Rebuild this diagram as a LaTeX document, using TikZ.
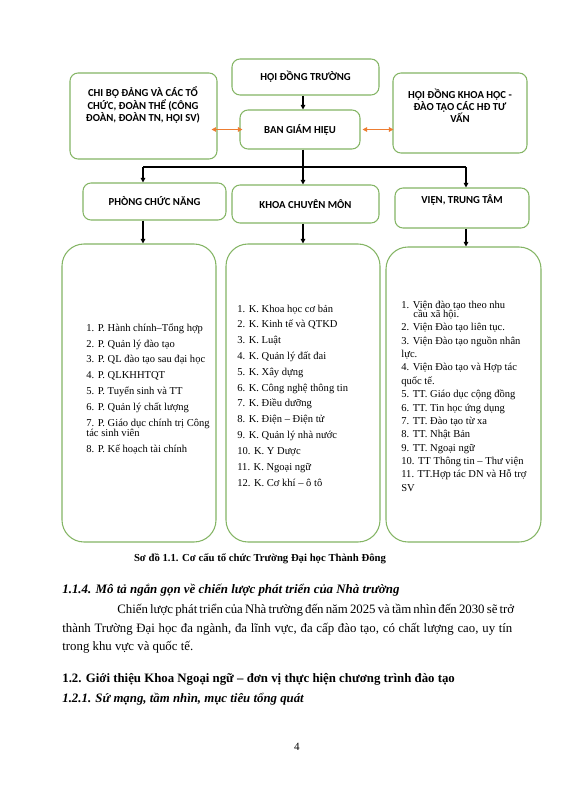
\documentclass[tikz,border=0pt]{standalone}
\usepackage{fontspec}
\setmainfont{Liberation Serif}
\newfontfamily\calibri{Carlito}
\usetikzlibrary{arrows.meta,positioning}

\newlength\unitpx
\setlength\unitpx{0.02cm}
\definecolor{boxgreen}{RGB}{132,181,100}
\definecolor{linkorange}{RGB}{237,125,49}

\begin{document}
\begin{tikzpicture}[
  x=0.02cm, y=-0.02cm,
  %% ── node styles ────────────────────────────────────────────────────
  %% Small rounded boxes of the organisation chart
  box/.style   ={rectangle, rounded corners=8\unitpx, draw=boxgreen,
                 line width=0.6pt, align=center, inner sep=0pt,
                 font=\calibri\bfseries\fontsize{6.1}{6.9}\selectfont},
  %% Text of a box that sits in its upper part
  lbl/.style   ={align=center, inner sep=0pt,
                 font=\calibri\bfseries\fontsize{6.1}{6.9}\selectfont},
  %% Tall boxes holding the lists of units
  listbox/.style={rectangle, rounded corners=22\unitpx, draw=boxgreen,
                 line width=0.6pt, inner sep=0pt,
                 minimum width=154\unitpx},
  items/.style ={anchor=west, align=left, inner sep=0pt,
                 font=\fontsize{6}{9}\selectfont},
  %% Page text under the chart
  body/.style  ={anchor=base west, inner sep=0pt,
                 font=\fontsize{7.3}{10}\selectfont},
  %% Arrows
  arr/.style   ={-{Triangle[length=2.6pt,width=2.6pt]}, line width=0.6pt},
  link/.style  ={{Triangle[length=2.6pt,width=2.6pt]}-{Triangle[length=2.6pt,width=2.6pt]},
                 line width=0.7pt, linkorange},
]

%% page
\fill[white] (0,0) rectangle (566,800);
\useasboundingbox (0,0) rectangle (566,800);

%% ════════════════════════════════════════════════════════════════════
%% TOP LEVEL
%% ════════════════════════════════════════════════════════════════════
\node[box, minimum width=147\unitpx, minimum height=36\unitpx] (hdt) at (305.5,77)
  {HỘI ĐỒNG TRƯỜNG};
\node[box, minimum width=120\unitpx, minimum height=39\unitpx] (bgh) at (300,129.5)
  {BAN GIÁM HIỆU};

\node[box, minimum width=147\unitpx, minimum height=86\unitpx] (chibo) at (143.5,116) {};
\node[lbl] (chibo-txt) at (143,105)
  {CHI BỘ ĐẢNG VÀ CÁC TỔ\\CHỨC, ĐOÀN THỂ (CÔNG\\ĐOÀN, ĐOÀN TN, HỘI SV)};

\node[box, minimum width=134\unitpx, minimum height=80\unitpx] (khoahoc) at (460,113) {};
\node[lbl] (khoahoc-txt) at (460,106)
  {HỘI ĐỒNG KHOA HỌC -\\ĐÀO TẠO CÁC HĐ TƯ\\VẤN};

%% two-way links
\draw[link] ([xshift=-6\unitpx]chibo.east |- bgh.west) -- ([xshift=3\unitpx]bgh.west);
\draw[link] ([xshift=2\unitpx]bgh.east) -- ([xshift=1\unitpx]khoahoc.west |- bgh.east);

%% ════════════════════════════════════════════════════════════════════
%% SECOND LEVEL
%% ════════════════════════════════════════════════════════════════════
\node[box, minimum width=143\unitpx, minimum height=37\unitpx] (pcn) at (154.5,201.5)
  {PHÒNG CHỨC NĂNG};
\node[box, minimum width=147\unitpx, minimum height=38\unitpx] (kcm) at (305.5,204)
  {KHOA CHUYÊN MÔN};
\node[box, minimum width=134\unitpx, minimum height=40\unitpx] (vtt) at (462,208) {};
\node[lbl] (vtt-txt) at (462,200) {VIỆN, TRUNG TÂM};

%% bus from the board
\coordinate (spine) at (303,167);
\coordinate (busL)  at (143,167);
\coordinate (busR)  at (466,167);

\draw[arr] (hdt.south -| spine) -- (bgh.north -| spine);
\draw[line width=0.6pt] (bgh.south -| spine) -- (spine);
\draw[line width=0.6pt] (busL) -- (busR);
\foreach \a/\b in {pcn/busL, kcm/spine, vtt/busR}
  \draw[arr] (\b) -- (\a.north -| \b);

%% ════════════════════════════════════════════════════════════════════
%% LISTS
%% ════════════════════════════════════════════════════════════════════
\node[listbox, minimum height=298\unitpx] (listL) at (139,393) {};
\node[listbox, minimum height=298\unitpx] (listM) at (303,393) {};
\node[listbox, minimum width=155\unitpx, minimum height=295\unitpx] (listR) at (463.5,394.5) {};

\foreach \a/\b/\c in {pcn/listL/busL, kcm/listM/spine, vtt/listR/busR}
  \draw[arr] (\a.south -| \c) -- (\b.north -| \c);

\node[items] (itemsL) at (86,389)
  {1. P. Hành chính–Tổng hợp\\
   2. P. Quản lý đào tạo\\
   3. P. QL đào tạo sau đại học\\
   4. P. QLKHHTQT\\
   5. P. Tuyển sinh và TT\\
   6. P. Quản lý chất lượng\\
   7. P. Giáo dục chính trị Công\\[-3pt]
   tác sinh viên\\
   8. P. Kế hoạch tài chính};

\node[items] (itemsM) at (237,395.5)
  {1. K. Khoa học cơ bản\\
   2. K. Kinh tế và QTKD\\
   3. K. Luật\\
   4. K. Quản lý đất đai\\
   5. K. Xây dựng\\
   6. K. Công nghệ thông tin\\
   7. K. Điều dưỡng\\
   8. K. Điện – Điện tử\\
   9. K. Quản lý nhà nước\\
   10. K. Y Dược\\
   11. K. Ngoại ngữ\\
   12. K. Cơ khí – ô tô};

\node[items, font=\fontsize{6}{7.6}\selectfont] (itemsR) at (401,396)
  {1. Viện đào tạo theo nhu\\[-2.2pt]
   \hspace*{12\unitpx}cầu xã hội.\\
   2. Viện Đào tạo liên tục.\\
   3. Viện Đào tạo nguồn nhân\\
   lực.\\
   4. Viện Đào tạo và Hợp tác\\
   quốc tế.\\
   5. TT. Giáo dục cộng đồng\\
   6. TT. Tin học ứng dụng\\
   7. TT. Đào tạo từ xa\\
   8. TT. Nhật Bản\\
   9. TT. Ngoại ngữ\\
   10. TT Thông tin – Thư viện\\
   11. TT.Hợp tác DN và Hỗ trợ\\
   SV};

%% ════════════════════════════════════════════════════════════════════
%% PAGE TEXT
%% ════════════════════════════════════════════════════════════════════
\node[body, anchor=base, font=\bfseries\fontsize{6.1}{8}\selectfont] (caption) at (260,561)
  {Sơ đồ 1.1. Cơ cấu tổ chức Trường Đại học Thành Đông};

\node[body, font=\bfseries\itshape\fontsize{7.35}{10}\selectfont] (h114) at (62,593.5)
  {1.1.4. Mô tả ngắn gọn về chiến lược phát triển của Nhà trường};

\node[body] (par1) at (117,613.5)
  {\makebox[395\unitpx][s]{Chiến lược phát triển của Nhà trường đến năm 2025 và tầm nhìn đến 2030 sẽ trở}};
\node[body] (par2) at (62,632.5)
  {\makebox[450\unitpx][s]{thành Trường Đại học đa ngành, đa lĩnh vực, đa cấp đào tạo, có chất lượng cao, uy tín}};
\node[body] (par3) at (62,650.5)
  {trong khu vực và quốc tế.};

\node[body, font=\bfseries\fontsize{7.3}{10}\selectfont] (h12) at (62,682.5)
  {1.2. Giới thiệu Khoa Ngoại ngữ – đơn vị thực hiện chương trình đào tạo};
\node[body, font=\bfseries\itshape\fontsize{7.3}{10}\selectfont] (h121) at (62,702.5)
  {1.2.1. Sứ mạng, tầm nhìn, mục tiêu tổng quát};

\node[body, anchor=base, font=\fontsize{6.3}{8}\selectfont] (pageno) at (297,750) {4};

\end{tikzpicture}
\end{document}
